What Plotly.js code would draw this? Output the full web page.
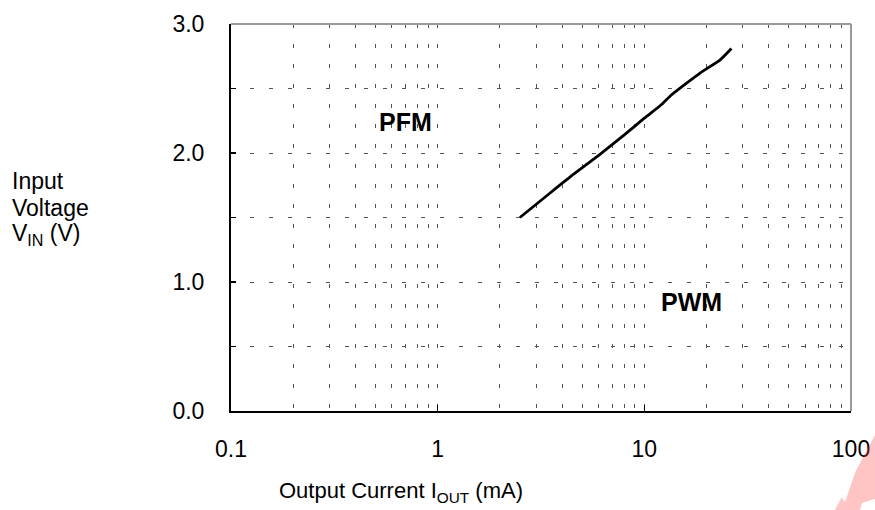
<!DOCTYPE html>
<html><head><meta charset="utf-8">
<script src="https://cdn.plot.ly/plotly-3.0.1.min.js"></script>
<style>html,body{margin:0;padding:0;background:#fff}#chart{width:875px;height:510px}</style>
</head><body><div id="chart"></div>
<script>
// Boundary between PFM and PWM operation
const currentMA = [2.5, 3.5, 4.5, 6.1, 8.0, 10.0, 12.2, 13.5, 18.6, 23.2, 26.4];
const inputV    = [1.50, 1.69, 1.83, 1.99, 2.14, 2.27, 2.38, 2.45, 2.62, 2.72, 2.81];

const xTickVals   = [0.1, 1, 10, 100];
const xTickLabels = ['0.1', '1', '10', '100'];
const xMinorVals  = [0.2,0.3,0.4,0.5,0.6,0.7,0.8,0.9, 2,3,4,5,6,7,8,9, 20,30,40,50,60,70,80,90];
const yTickVals   = [0, 1, 2, 3];
const yTickLabels = ['0.0', '1.0', '2.0', '3.0'];
const yMinorVals  = [0.5, 1.5, 2.5];

const regionLabels = ['PFM', 'PWM'];
const yTitleLines = ['Input', 'Voltage', 'V<sub>IN</sub> (V)'];
const xTitle = 'Output Current I<sub>OUT</sub> (mA)';

const FONT = 'Liberation Sans, Arial, sans-serif';
const gridCol = '#555';

const trace = {
  x: currentMA, y: inputV, type: 'scatter', mode: 'lines',
  line: {color: '#000', width: 2.8, shape: 'spline', smoothing: 0.5},
  hoverinfo: 'skip', showlegend: false
};

const yTitleAnn = yTitleLines.map((t, i) => ({
  text: t, xref: 'paper', yref: 'paper',
  x: -0.357, y: (411 - (181 + 26.5 * i)) / 387, xanchor: 'left', yanchor: 'middle', align: 'left',
  showarrow: false, font: {size: 23, family: FONT}
}));

const layout = {
  width: 875, height: 510,
  margin: {l: 231, r: 24, t: 24, b: 99},
  paper_bgcolor: '#fff', plot_bgcolor: '#fff',
  font: {family: FONT, color: '#000'},
  xaxis: {
    type: 'log', range: [-1, 2],
    tickmode: 'array', tickvals: xTickVals, ticktext: xTickLabels,
    ticks: 'inside', ticklen: 6, tickwidth: 1.5, tickcolor: '#000',
    tickfont: {size: 23, family: FONT},
    ticklabelstandoff: 16,
    showgrid: true, gridcolor: gridCol, gridwidth: 1, griddash: '4px,16px',
    minor: {tickmode: 'array', tickvals: xMinorVals, showgrid: true,
            gridcolor: gridCol, gridwidth: 1, griddash: '4px,16px', ticks: ''},
    showline: true, linecolor: '#000', linewidth: 2,
    zeroline: false, fixedrange: true
  },
  yaxis: {
    range: [0, 3],
    tickmode: 'array', tickvals: yTickVals, ticktext: yTickLabels,
    ticks: 'inside', ticklen: 5, tickwidth: 1.5, tickcolor: '#000',
    tickfont: {size: 23, family: FONT},
    ticklabelstandoff: 20,
    showgrid: true, gridcolor: gridCol, gridwidth: 1, griddash: '4px,15px',
    minor: {tickmode: 'array', tickvals: yMinorVals, showgrid: true,
            gridcolor: gridCol, gridwidth: 1, griddash: '4px,15px',
            ticks: 'inside', ticklen: 5, tickwidth: 1.5, tickcolor: '#000'},
    showline: true, linecolor: '#000', linewidth: 2,
    zeroline: false, fixedrange: true
  },
  shapes: [
    {type: 'line', xref: 'paper', yref: 'paper', x0: 0, x1: 1, y0: 1, y1: 1,
     line: {color: '#999', width: 2}},
    {type: 'line', xref: 'paper', yref: 'paper', x0: 1, x1: 1, y0: 0, y1: 1,
     line: {color: '#999', width: 2}},
    // watermark fragment (bottom-right corner)
    {type: 'path', xref: 'paper', yref: 'paper', layer: 'above',
     path: 'M1.0387,-0.0620 L0.9742,-0.2558 L1.0387,-0.2558 Z',
     fillcolor: 'rgba(255,70,70,0.32)', line: {width: 0}},
    {type: 'path', xref: 'paper', yref: 'paper', layer: 'above',
     path: 'M0.9984,-0.1344 L1.0097,-0.1447 L0.9903,-0.2351 L0.9855,-0.2248 Z',
     fillcolor: '#fff', line: {width: 0}},
    {type: 'path', xref: 'paper', yref: 'paper', layer: 'above',
     path: 'M1.0177,-0.2377 L1.0387,-0.2274 L1.0387,-0.2558 L1.0145,-0.2558 Z',
     fillcolor: '#fff', line: {width: 0}}
  ],
  annotations: [
    {text: '<b>' + regionLabels[0] + '</b>', xref: 'x', yref: 'y', x: Math.log10(0.695), y: 2.24,
     showarrow: false, font: {size: 25, family: FONT}},
    {text: '<b>' + regionLabels[1] + '</b>', xref: 'x', yref: 'y', x: Math.log10(17.0), y: 0.845,
     showarrow: false, font: {size: 25, family: FONT}},
    ...yTitleAnn,
    {text: xTitle, xref: 'paper', yref: 'paper',
     x: 0.274, y: -0.2505, xanchor: 'center', yanchor: 'bottom',
     showarrow: false, font: {size: 22, family: FONT}}
  ]
};

Plotly.newPlot('chart', [trace], layout, {staticPlot: true, displayModeBar: false});
</script>
</body></html>
